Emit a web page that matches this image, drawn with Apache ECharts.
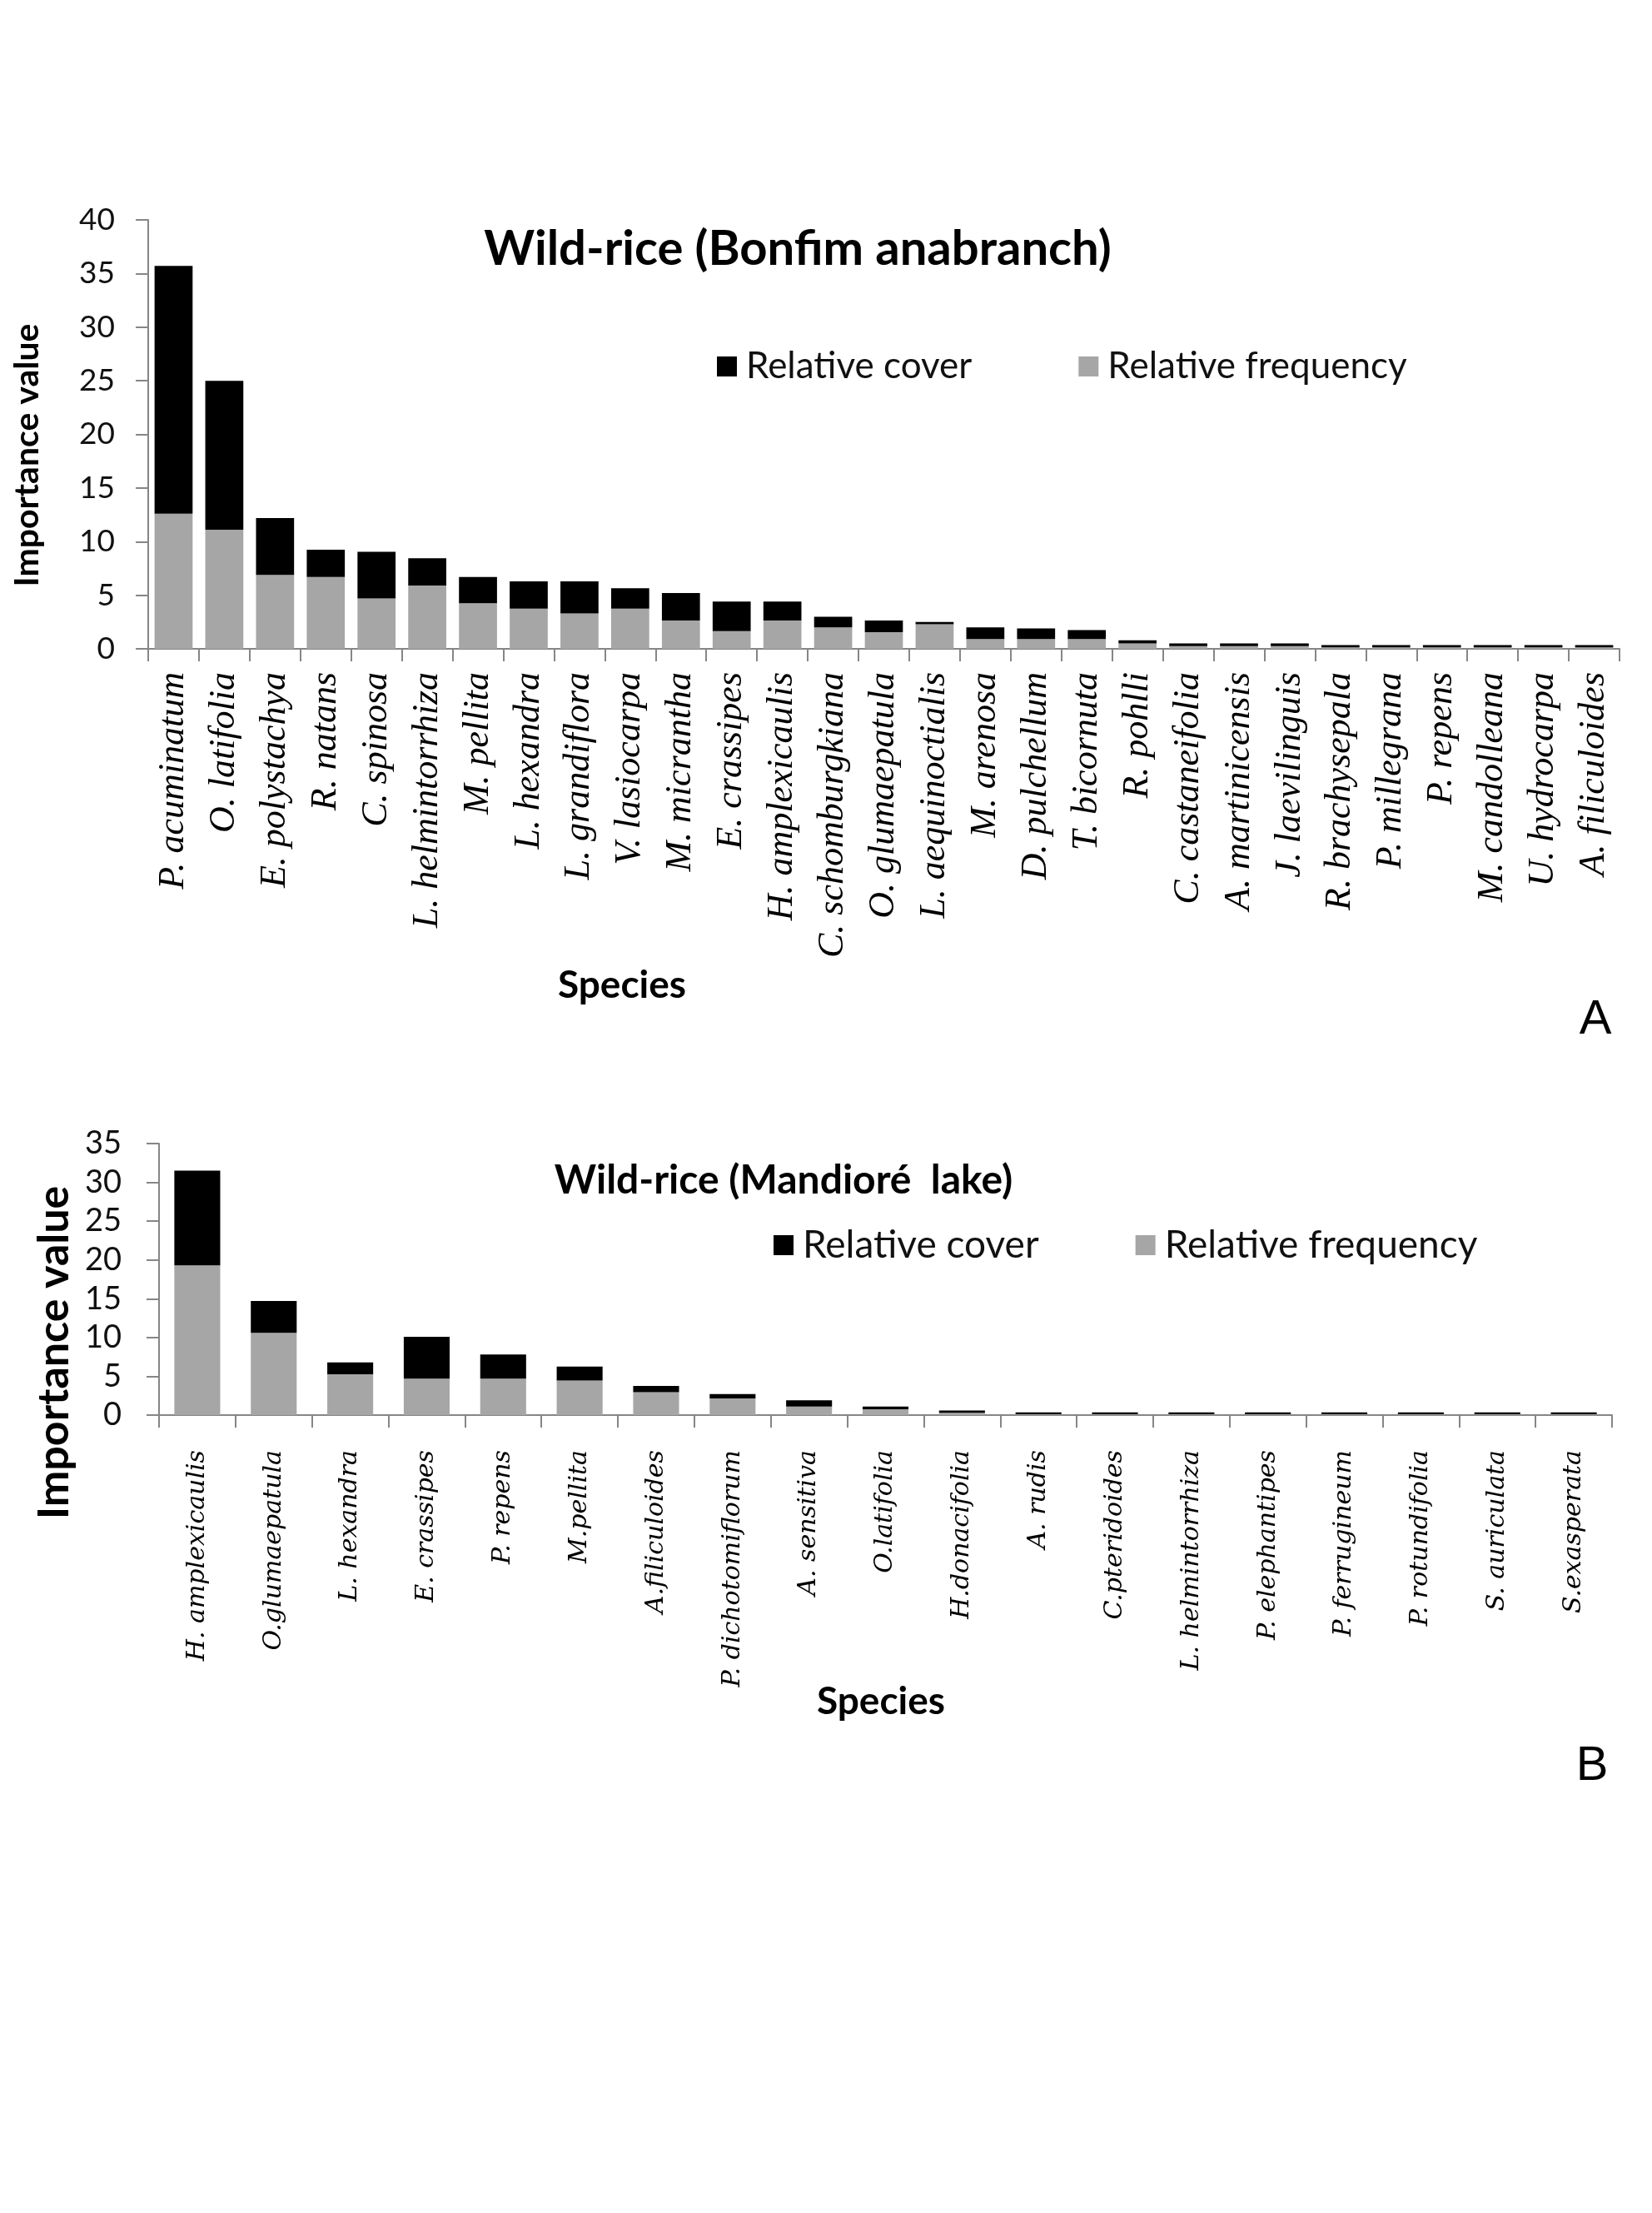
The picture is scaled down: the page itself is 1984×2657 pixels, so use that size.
<!DOCTYPE html>
<html><head><meta charset="utf-8">
<script src="https://cdn.jsdelivr.net/npm/echarts@6/dist/echarts.min.js"></script>
<style>html,body{margin:0;padding:0;background:#fff}#c{width:1984px;height:2657px}</style>
</head><body><div id="c"></div>
<script>
// ---- Panel A: Wild-rice (Bonfim anabranch)
const speciesA = ['P. acuminatum','O. latifolia','E. polystachya','R. natans','C. spinosa','L. helmintorrhiza','M. pellita','L. hexandra','L. grandiflora','V. lasiocarpa','M. micrantha','E. crassipes','H. amplexicaulis','C. schomburgkiana','O. glumaepatula','L. aequinoctialis','M. arenosa','D. pulchellum','T. bicornuta','R. pohlli','C. castaneifolia','A. martinicensis','J. laevilinguis','R. brachysepala','P. millegrana','P. repens','M. candolleana','U. hydrocarpa','A. filiculoides'];
const freqA  = [12.6,11.1,6.9,6.7,4.7,5.9,4.25,3.75,3.3,3.75,2.65,1.65,2.65,2.0,1.55,2.3,0.92,0.92,0.92,0.5,0.26,0.26,0.26,0.14,0.14,0.14,0.14,0.14,0.14];
const coverA = [23.1,13.9,5.3,2.55,4.35,2.55,2.45,2.55,3.0,1.9,2.55,2.75,1.75,1.0,1.1,0.2,1.08,0.98,0.83,0.3,0.24,0.24,0.24,0.21,0.21,0.21,0.21,0.21,0.21];
const yTicksA = {min:0, max:40, interval:5};

// ---- Panel B: Wild-rice (Mandioré lake)
const speciesB = ['H. amplexicaulis','O.glumaepatula','L. hexandra','E. crassipes','P. repens','M.pellita','A.filiculoides','P. dichotomiflorum','A. sensitiva','O.latifolia','H.donacifolia','A. rudis','C.pteridoides','L. helmintorrhiza','P. elephantipes','P. ferrugineum','P. rotundifolia','S. auriculata','S.exasperata'];
const freqB  = [19.3,10.6,5.25,4.7,4.7,4.45,2.95,2.15,1.1,0.75,0.3,0.1,0.1,0.1,0.1,0.1,0.1,0.1,0.1];
const coverB = [12.2,4.1,1.55,5.4,3.1,1.8,0.8,0.55,0.8,0.35,0.3,0.25,0.25,0.25,0.25,0.25,0.25,0.25,0.25];
const yTicksB = {min:0, max:35, interval:5};

const GRAY = '#a6a6a6', BLACK = '#000000', AXIS = '#868686';
const sans = 'Lato';

const chart = echarts.init(document.getElementById('c'), null, {renderer:'canvas'});

function yAxisCfg(gridIndex, ticks, fs, margin, name, nameFs, nameGap, shift){
  return {
    type:'value', gridIndex, min:ticks.min, max:ticks.max, interval:ticks.interval,
    axisLine:{show:true, lineStyle:{color:AXIS, width:2}},
    axisTick:{show:true, length:15, lineStyle:{color:AXIS, width:2}},
    splitLine:{show:false},
    axisLabel:{fontFamily:sans, fontSize:fs, color:'#111', margin},
    name, nameLocation:'middle', nameGap,
    nameTextStyle:{fontFamily:sans, fontWeight:'bold', fontSize:nameFs, color:'#000', padding:[0, shift*2, 0, 0]}
  };
}
function xAxisCfg(gridIndex, data, font, fs, margin){
  return {
    type:'category', gridIndex, data, boundaryGap:true,
    axisLine:{show:true, lineStyle:{color:AXIS, width:2}},
    axisTick:{show:true, length:15, alignWithLabel:false, interval:0, lineStyle:{color:AXIS, width:2}},
    axisLabel:{interval:0, rotate:90, fontFamily:font, fontStyle:'italic', fontSize:fs, color:'#000', margin}
  };
}

const option = {
  backgroundColor:'#ffffff',
  animation:false,
  title:[
    {text:'Wild-rice (Bonfim anabranch)', left:958, top:270, textAlign:'center', padding:0,
     textStyle:{fontFamily:sans, fontWeight:'bold', fontSize:58, color:'#000'}},
    {text:'Species', left:747, top:1160, textAlign:'center', padding:0,
     textStyle:{fontFamily:sans, fontWeight:'bold', fontSize:46, color:'#000'}},
    {text:'A', left:1916, top:1196, textAlign:'center', padding:0,
     textStyle:{fontFamily:'Liberation Sans', fontWeight:'normal', fontSize:58, color:'#000'}},
    {text:'Wild-rice (Mandioré  lake)', left:941, top:1394, textAlign:'center', padding:0,
     textStyle:{fontFamily:sans, fontWeight:'bold', fontSize:48, color:'#000'}},
    {text:'Species', left:1058, top:2020, textAlign:'center', padding:0,
     textStyle:{fontFamily:sans, fontWeight:'bold', fontSize:46, color:'#000'}},
    {text:'B', left:1912, top:2092, textAlign:'center', padding:0,
     textStyle:{fontFamily:'Liberation Sans', fontWeight:'normal', fontSize:58, color:'#000'}}
  ],
  legend:[
    {left:861, top:418, padding:0, itemWidth:24, itemHeight:24, itemGap:128, icon:'rect',
     data:['Relative cover','Relative frequency'], selectedMode:false,
     textStyle:{fontFamily:sans, fontSize:44, color:'#111', padding:[0,0,0,6]}},
    {left:929, top:1472, padding:0, itemWidth:24, itemHeight:24, itemGap:116, icon:'rect',
     data:['Relative cover','Relative frequency'], selectedMode:false,
     textStyle:{fontFamily:sans, fontSize:46, color:'#111', padding:[0,0,0,6]}}
  ],
  grid:[
    {left:178, right:39, top:264, bottom:1878, containLabel:false},
    {left:191, right:48, top:1373, bottom:958, containLabel:false}
  ],
  xAxis:[
    xAxisCfg(0, speciesA, 'Liberation Serif', 44, 28),
    xAxisCfg(1, speciesB, 'DejaVu Serif', 30, 42)
  ],
  yAxis:[
    yAxisCfg(0, yTicksA, 37, 40, 'Importance value', 41, 125, 25),
    yAxisCfg(1, yTicksB, 38, 45, 'Importance value', 52, 86, 88)
  ],
  series:[
    {name:'Relative frequency', type:'bar', stack:'A', xAxisIndex:0, yAxisIndex:0, data:freqA,
     barCategoryGap:'25%', itemStyle:{color:GRAY}},
    {name:'Relative cover', type:'bar', stack:'A', xAxisIndex:0, yAxisIndex:0, data:coverA,
     barCategoryGap:'25%', itemStyle:{color:BLACK}},
    {name:'Relative frequency', type:'bar', stack:'B', xAxisIndex:1, yAxisIndex:1, data:freqB,
     barCategoryGap:'40%', itemStyle:{color:GRAY}},
    {name:'Relative cover', type:'bar', stack:'B', xAxisIndex:1, yAxisIndex:1, data:coverB,
     barCategoryGap:'40%', itemStyle:{color:BLACK}}
  ]
};
chart.setOption(option);
</script>
</body></html>
